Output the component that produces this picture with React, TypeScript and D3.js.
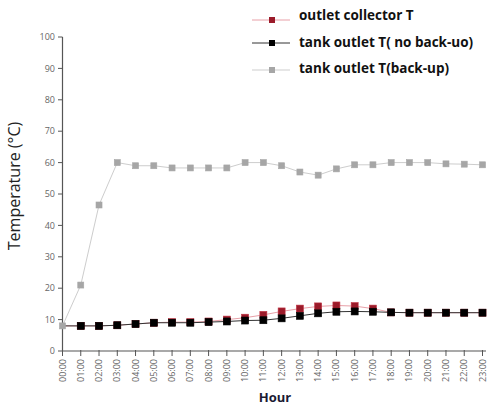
import React from "react";
import * as d3 from "d3";

const hours = ["00:00","01:00","02:00","03:00","04:00","05:00","06:00","07:00","08:00","09:00","10:00","11:00","12:00","13:00","14:00","15:00","16:00","17:00","18:00","19:00","20:00","21:00","22:00","23:00"];
const backUp = [8, 21, 46.5, 60, 59, 59, 58.3, 58.3, 58.3, 58.3, 60, 60, 59, 57, 56, 58, 59.3, 59.3, 60, 60, 60, 59.6, 59.5, 59.3];
const noBackUp = [8, 8, 8, 8.2, 8.6, 9.0, 9.0, 9.0, 9.2, 9.4, 9.7, 9.8, 10.4, 11.2, 12.0, 12.5, 12.6, 12.5, 12.3, 12.2, 12.2, 12.2, 12.2, 12.2];
const collector = [8, 8, 8, 8.2, 8.6, 9.0, 9.2, 9.2, 9.4, 10.0, 10.6, 11.5, 12.6, 13.5, 14.2, 14.5, 14.3, 13.5, 12.3, 12.2, 12.2, 12.2, 12.2, 12.2];
const yTicks = [0, 10, 20, 30, 40, 50, 60, 70, 80, 90, 100];
const legendLabels = ["outlet collector T", "tank outlet T( no back-uo)", "tank outlet T(back-up)"];

export default function App() {
  const W = 488, H = 408;
  const x = d3.scalePoint<string>().domain(hours).range([62.5, 482.5]);
  const y = d3.scaleLinear().domain([0, 100]).range([351, 37]);
  const line = (vals: number[]) =>
    d3.line<number>().x((_, i) => x(hours[i])!).y((v) => y(v))(vals) || "";

  const series = [
    { vals: collector, line: "#e8a0a8", fill: "#9b1b2a", stroke: "#c03040", size: 7, skipFirst: true },
    { vals: noBackUp, line: "#333", fill: "#000", stroke: "#000", size: 7, skipFirst: true },
    { vals: backUp, line: "#cdcdcd", fill: "#a6a6a6", stroke: "#a6a6a6", size: 6, skipFirst: false },
  ];
  const drawOrder = [0, 1, 2];
  const font = "'Open Sans', 'DejaVu Sans', sans-serif";

  return (
    <svg width={W} height={H} style={{ position: "absolute", left: 0, top: 0, background: "#fff" }}>
      <rect width={W} height={H} fill="#fff" />
      {/* y axis */}
      <line x1={62.5} x2={62.5} y1={y(100)} y2={y(0)} stroke="#555" strokeWidth={1.2} />
      {yTicks.map((t) => (
        <g key={t}>
          <line x1={58} x2={62.5} y1={y(t)} y2={y(t)} stroke="#555" />
          <text x={55} y={y(t)} dy="0.35em" textAnchor="end" fontSize={9} fill="#666" fontFamily={font}>{t}</text>
        </g>
      ))}
      {/* x axis */}
      <line x1={62.5} x2={486} y1={y(0)} y2={y(0)} stroke="#555" strokeWidth={1.2} />
      {hours.map((h) => (
        <g key={h}>
          <line x1={x(h)} x2={x(h)} y1={y(0) - 1} y2={y(0) + 5} stroke="#555" />
          <text transform={`translate(${x(h)! + 3},${y(0) + 8}) rotate(-90)`} textAnchor="end" fontSize={9} fill="#666" fontFamily={font}>{h}</text>
        </g>
      ))}
      <text transform="translate(20,186) rotate(-90)" textAnchor="middle" fontSize={16} fill="#222" fontFamily={font}>Temperature (°C)</text>
      <text x={275} y={402} textAnchor="middle" fontSize={13} fontWeight="bold" fill="#1a1a33" fontFamily={font}>Hour</text>

      {drawOrder.map((si) => {
        const s = series[si];
        return (
          <g key={si}>
            <path d={line(s.vals)} fill="none" stroke={s.line} strokeWidth={1} />
            {s.vals.map((v, i) =>
              s.skipFirst && i === 0 ? null : (
                <rect key={i} x={x(hours[i])! - s.size / 2} y={y(v) - s.size / 2} width={s.size} height={s.size} fill={s.fill} stroke={s.stroke} strokeWidth={0.6} />
              )
            )}
          </g>
        );
      })}

      {/* legend */}
      {legendLabels.map((lab, i) => {
        const s = series[i];
        const ly = [20, 43, 70][i];
        return (
          <g key={lab}>
            <line x1={252} x2={290} y1={ly} y2={ly} stroke={s.line} />
            <rect x={272 - 3} y={ly - 3} width={6} height={6} fill={s.fill} />
            <text x={299} y={[15, 42, 68][i]} dy="0.35em" fontSize={13.5} fontWeight="bold" fill="#111" fontFamily={font}>{lab}</text>
          </g>
        );
      })}
    </svg>
  );
}
